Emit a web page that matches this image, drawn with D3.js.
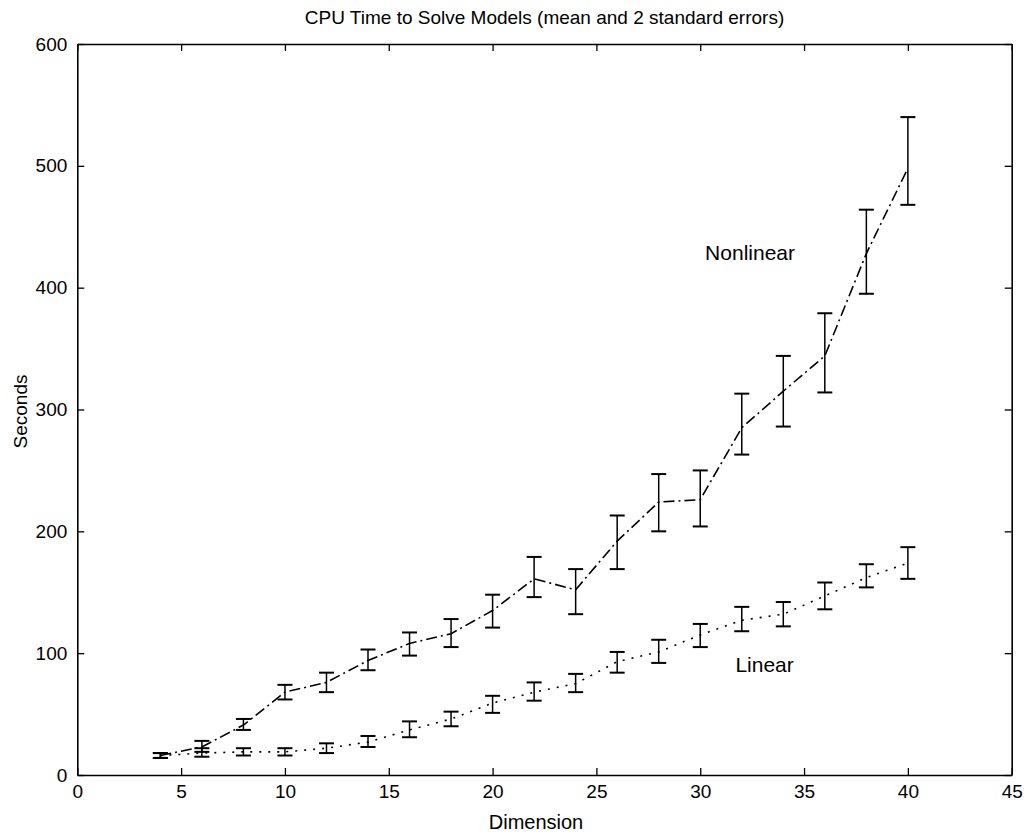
<!DOCTYPE html>
<html>
<head>
<meta charset="utf-8">
<script src="https://cdn.jsdelivr.net/npm/d3@7"></script>
<style>
  html, body { margin: 0; padding: 0; background: #fff; }
  svg text { font-family: "Liberation Sans", Arial, Helvetica, sans-serif; fill: #000; }
</style>
</head>
<body>
<svg id="chart" width="1031" height="834"></svg>
<script>
// ---- data ----
const dims = [4, 6, 8, 10, 12, 14, 16, 18, 20, 22, 24, 26, 28, 30, 32, 34, 36, 38, 40];
const nonlinearMean = [16, 23, 41, 68, 76, 94, 108, 116, 135, 161, 152, 192, 224, 226, 285, 315, 344, 428, 498];
const nonlinearLow  = [14, 19, 37, 62, 68, 86, 98, 105, 121, 146, 132, 169, 200, 204, 263, 286, 314, 395, 468];
const nonlinearHigh = [18, 28, 46, 74, 84, 103, 117, 128, 148, 179, 169, 213, 247, 250, 313, 344, 379, 464, 540];
const linearMean = [16, 18, 19, 19, 22, 27, 37, 46, 59, 68, 75, 93, 101, 115, 127, 132, 147, 162, 174];
const linearLow  = [14, 15, 16, 16, 18, 23, 31, 40, 51, 61, 68, 84, 92, 105, 118, 122, 136, 154, 161];
const linearHigh = [18, 22, 22, 22, 26, 32, 44, 52, 65, 76, 83, 101, 111, 124, 138, 142, 158, 173, 187];
const xTicks = [0, 5, 10, 15, 20, 25, 30, 35, 40, 45];
const yTicks = [0, 100, 200, 300, 400, 500, 600];
const titleText = "CPU Time to Solve Models (mean and 2 standard errors)";
const xLabel = "Dimension";
const yLabel = "Seconds";
const seriesLabels = [
  { name: "Nonlinear", x: 32.4, y: 427 },
  { name: "Linear", x: 33.1, y: 89 }
];

// ---- layout ----
const svg = d3.select("#chart");
const L = 77.3, R = 1011.7, T = 44, B = 775;
const x = d3.scaleLinear().domain([0, 45]).range([L, R]);
const y = d3.scaleLinear().domain([0, 600]).range([B, T]);
const FONT = 19;

const g = svg.append("g");

// axes (ticks inward, closed box)
const tickLen = 7;
const axB = g.append("g").attr("transform", `translate(0,${B})`)
  .call(d3.axisBottom(x).tickValues(xTicks).tickSizeInner(-tickLen).tickSizeOuter(0).tickPadding(10));
const axT = g.append("g").attr("transform", `translate(0,${T})`)
  .call(d3.axisTop(x).tickValues(xTicks).tickSizeInner(-tickLen).tickSizeOuter(0).tickFormat(""));
const axL = g.append("g").attr("transform", `translate(${L},0)`)
  .call(d3.axisLeft(y).tickValues(yTicks).tickSizeInner(-tickLen).tickSizeOuter(0).tickPadding(10));
const axR = g.append("g").attr("transform", `translate(${R},0)`)
  .call(d3.axisRight(y).tickValues(yTicks).tickSizeInner(-tickLen).tickSizeOuter(0).tickFormat(""));

[axB, axT, axL, axR].forEach(a => {
  a.attr("font-size", FONT).attr("font-family", '"Liberation Sans", Arial, sans-serif');
  a.select(".domain").attr("stroke", "#000").attr("stroke-width", 1.6);
  a.selectAll(".tick line").attr("stroke", "#000").attr("stroke-width", 1.3);
  a.selectAll(".tick text").attr("font-size", FONT).attr("fill", "#000");
});

// series
function drawSeries(mean, low, high, dash) {
  const pts = dims.map((d, i) => ({ d, m: mean[i], lo: low[i], hi: high[i] }));
  const line = d3.line().x(p => x(p.d)).y(p => y(p.m));
  g.append("path").datum(pts)
    .attr("d", line)
    .attr("fill", "none")
    .attr("stroke", "#000")
    .attr("stroke-width", 1.6)
    .attr("stroke-dasharray", dash);
  const cap = 7.5;
  const eb = g.append("g");
  pts.forEach(p => {
    eb.append("line").attr("x1", x(p.d)).attr("x2", x(p.d))
      .attr("y1", y(p.lo)).attr("y2", y(p.hi))
      .attr("stroke", "#000").attr("stroke-width", 1.5);
    [p.lo, p.hi].forEach(v => {
      eb.append("line").attr("x1", x(p.d) - cap).attr("x2", x(p.d) + cap)
        .attr("y1", y(v)).attr("y2", y(v))
        .attr("stroke", "#000").attr("stroke-width", 2);
    });
  });
}
drawSeries(nonlinearMean, nonlinearLow, nonlinearHigh, "11,4,2,4");
drawSeries(linearMean, linearLow, linearHigh, "2,7");

// series labels
seriesLabels.forEach(s => {
  g.append("text").attr("x", x(s.x)).attr("y", y(s.y))
    .attr("font-size", 21).attr("text-anchor", "middle").attr("dominant-baseline", "middle")
    .text(s.name);
});

// titles
svg.append("text").attr("x", (L + R) / 2).attr("y", 24)
  .attr("text-anchor", "middle").attr("font-size", FONT).text(titleText);
svg.append("text").attr("x", 536).attr("y", 829)
  .attr("text-anchor", "middle").attr("font-size", 20).text(xLabel);
svg.append("text").attr("transform", `translate(27,${(T + B) / 2 + 2}) rotate(-90)`)
  .attr("text-anchor", "middle").attr("font-size", FONT).text(yLabel);
</script>
</body>
</html>
